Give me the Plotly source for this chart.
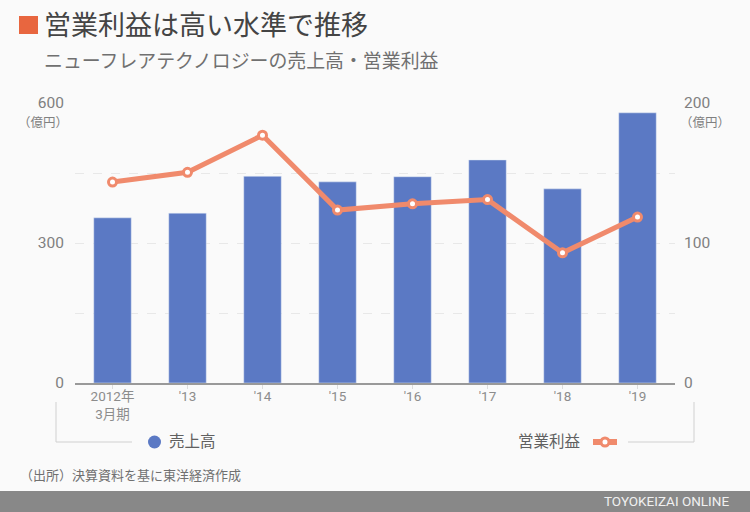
import plotly.graph_objects as go

years = ['2012年<br>3月期', "'13", "'14", "'15", "'16", "'17", "'18", "'19"]
sales = [354, 364, 443, 431, 442, 478, 416, 579]
profit = [143.5, 150.5, 177, 123.5, 128, 131, 93, 118.5]

left_ticks = [0, 150, 300, 450, 600]
left_labels = ['0', '', '300', '', '600']
right_ticks = [0, 50, 100, 150, 200]
right_labels = ['0', '', '100', '', '200']

W, H = 750, 512
L, R, T, B = 75, 675, 103, 383
JP = 'Roboto, Noto Sans CJK JP'


# pixel position -> paper position
def px(x):
    return (x - L) / (R - L)


def py(y):
    return (B - y) / (B - T)


def text(x, y, s, size, color, anchor='left'):
    return dict(x=px(x), y=py(y), xref='paper', yref='paper', text=s, showarrow=False,
                xanchor=anchor, yanchor='middle', font=dict(size=size, color=color, family=JP))


def rect(x0, y0, x1, y1, color):
    return dict(type='rect', xref='paper', yref='paper', x0=px(x0), x1=px(x1), y0=py(y0), y1=py(y1),
                fillcolor=color, line_width=0, layer='below')


def seg(x0, y0, x1, y1, color, width=1):
    return dict(type='line', xref='paper', yref='paper', x0=px(x0), x1=px(x1), y0=py(y0), y1=py(y1),
                line=dict(color=color, width=width))


fig = go.Figure()
fig.add_trace(go.Bar(x=years, y=sales, marker_color='#5b79c4', width=0.5, name='売上高'))
fig.add_trace(go.Scatter(x=years, y=profit, yaxis='y2', mode='lines+markers', name='営業利益',
                         line=dict(color='#f08a6c', width=5),
                         marker=dict(size=8, color='#ffffff', line=dict(color='#f08a6c', width=3))))

shapes = [
    rect(0, 491, 750, 512, '#888888'),
    rect(19, 16, 38, 34, '#e8663f'),
    seg(56, 402, 56, 442, '#d0d0d0'),
    seg(56, 442, 132, 442, '#d0d0d0'),
    seg(628, 442, 694, 442, '#d0d0d0'),
    seg(694, 402, 694, 442, '#d0d0d0'),
    seg(593, 442, 617, 442, '#f08a6c', 6),
    dict(type='circle', xref='paper', yref='paper', x0=px(601), x1=px(609), y0=py(438), y1=py(446),
         fillcolor='#ffffff', line=dict(color='#f08a6c', width=3)),
    dict(type='circle', xref='paper', yref='paper', x0=px(148), x1=px(161), y0=py(435.5), y1=py(448.5),
         fillcolor='#5b79c4', line_width=0),
]

annotations = [
    text(42, 26, '営業利益は高い水準で推移', 27, '#444444'),
    text(42, 61, 'ニューフレアテクノロジーの売上高・営業利益', 18.9, '#707070'),
    text(43, 122, '（億円）', 12.5, '#808080', 'center'),
    text(705, 122, '（億円）', 12.5, '#808080', 'center'),
    text(167, 442, '売上高', 15.5, '#606060'),
    text(515.5, 442, '営業利益', 15.5, '#606060'),
    text(18, 475, '（出所）決算資料を基に東洋経済作成', 13, '#707070'),
    text(731, 501, 'TOYOKEIZAI ONLINE', 13.5, '#f0f0f0', 'right'),
]

fig.update_layout(
    width=W, height=H, autosize=False,
    margin=dict(l=L, r=W - R, t=T, b=H - B),
    paper_bgcolor='#fafafa', plot_bgcolor='#fafafa',
    showlegend=False,
    font=dict(family=JP, color='#777777'),
    shapes=shapes, annotations=annotations,
    xaxis=dict(showline=True, linecolor='#999999', linewidth=2, ticks='outside', ticklen=4,
               tickcolor='#dddddd', tickfont=dict(size=13.5, color='#8c8c8c'), ticklabelstandoff=-4),
    yaxis=dict(range=[0, 600], tickvals=left_ticks, ticktext=left_labels, showgrid=True,
               gridcolor='#e8e8e8', griddash='dash', zeroline=False, ticklabelstandoff=10,
               tickfont=dict(size=15.5, color='#808080')),
    yaxis2=dict(range=[0, 200], tickvals=right_ticks, ticktext=right_labels, overlaying='y', side='right',
                showgrid=False, zeroline=False, ticklabelstandoff=8,
                tickfont=dict(size=15.5, color='#808080')),
)

# page margin would push the figure 8px off the window
fig.write_html("out.html", config=dict(displayModeBar=False),
               post_script="document.body.style.margin='0';document.body.style.overflow='hidden';")
